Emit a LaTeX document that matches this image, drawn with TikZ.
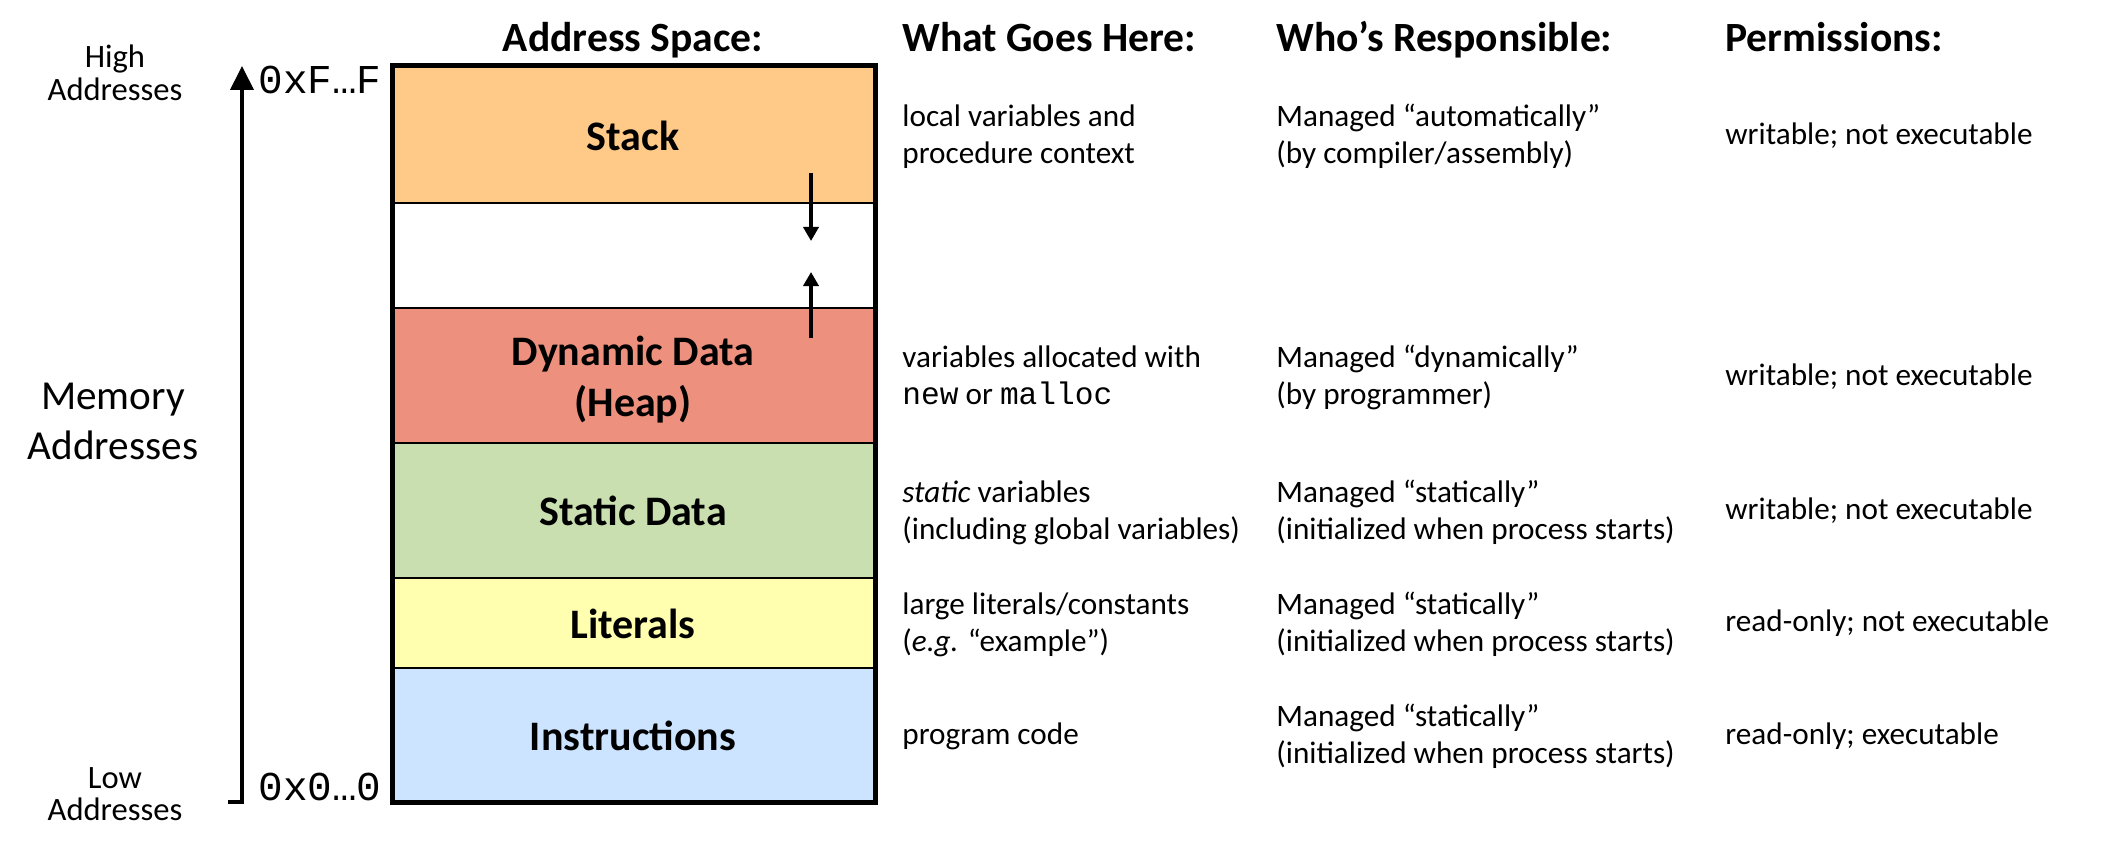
\documentclass[tikz,border=0pt]{standalone}
\usepackage{fontspec}
\setmainfont{Carlito}
\setmonofont{Liberation Mono}
\usetikzlibrary{arrows.meta}
\definecolor{stackc}{HTML}{FFC987}
\definecolor{heapc}{HTML}{EE907E}
\definecolor{staticc}{HTML}{C9DFB0}
\definecolor{litc}{HTML}{FFFFAF}
\definecolor{instrc}{HTML}{CCE4FF}
\newcommand{\twoline}[2]{\begin{tabular}[t]{@{}l@{}}#1\\#2\end{tabular}}
\tikzset{
  hdr/.style={font=\fontsize{20.8}{24}\selectfont\bfseries, anchor=base west, inner sep=0pt},
  body/.style={font=\fontsize{15.6}{18.5}\selectfont, anchor=base west, inner sep=0pt},
  seglabel/.style={font=\fontsize{21}{25.5}\selectfont\bfseries, anchor=base, inner sep=0pt, align=center},
  addr/.style={font=\fontsize{20.5}{24}\selectfont\ttfamily, anchor=base west, inner sep=0pt},
  side/.style={font=\fontsize{16.3}{16}\selectfont, anchor=base, inner sep=0pt},
  bigside/.style={font=\fontsize{20.6}{25}\selectfont, anchor=base, inner sep=0pt},
  growarrow/.style={line width=2pt, -{Triangle[width=7.5pt,length=7pt]}},
}
\begin{document}
\begin{tikzpicture}[x=0.5pt,y=-0.5pt]
\useasboundingbox (0,0) rectangle (2118,850);
% segments
\fill[stackc] (392,66) rectangle (875,203);
\fill[white] (392,203) rectangle (875,308);
\fill[heapc] (392,308) rectangle (875,443);
\fill[staticc] (392,443) rectangle (875,578);
\fill[litc] (392,578) rectangle (875,668);
\fill[instrc] (392,668) rectangle (875,802);
\foreach \yy in {203,308,443,578,668} \draw[line width=1.2pt] (392,\yy) -- (875,\yy);
\draw[line width=2.5pt] (392,66) rectangle (875,802);
% labels in the box
\node[seglabel] (stack) at (633,151) {Stack};
\node[seglabel] (heap) at (633,365) {\begin{tabular}[t]{@{}c@{}}Dynamic Data\\(Heap)\end{tabular}};
\node[seglabel] (static) at (633,525) {Static Data};
\node[seglabel] (lit) at (633,638) {Literals};
\node[seglabel] (instr) at (633,750) {Instructions};
% growth arrows
\coordinate (sdA) at (811,173);
\coordinate (sdB) at (811,241);
\coordinate (huA) at (811,338);
\coordinate (huB) at (811,272);
\draw[growarrow] (sdA) -- (sdB);
\draw[growarrow] (huA) -- (huB);
% headers
\node[hdr, anchor=base] (h1) at (633,52) {Address Space:};
\node[hdr] (h2) at (902,52) {What Goes Here:};
\node[hdr] (h3) at (1276,52) {Who’s Responsible:};
\node[hdr] (h4) at (1725,52) {Permissions:};
% address axis
\coordinate (axB) at (242,802);
\coordinate (axT) at (242,66);
\coordinate (tick) at (228,802);
\draw[line width=2pt, -{Triangle[width=11.5pt,length=12pt]}] (axB) -- (axT);
\draw[line width=2pt] (tick) -- ([xshift=1pt]axB);
\node[addr] (hiaddr) at (258,94) {0xF…F};
\node[addr] (loaddr) at (258,800) {0x0…0};
\node[side] (high) at (115,68) {\begin{tabular}[t]{@{}c@{}}High\\Addresses\end{tabular}};
\node[side] (low) at (115,788) {\begin{tabular}[t]{@{}c@{}}Low\\Addresses\end{tabular}};
\node[bigside] (mem) at (113,409) {\begin{tabular}[t]{@{}c@{}}Memory\\Addresses\end{tabular}};
% row: stack
\node[body] (w1) at (902,127) {\twoline{local variables and}{procedure context}};
\node[body] (r1) at (1276,127) {\twoline{Managed “automatically”}{(by compiler/assembly)}};
\node[body] (p1) at (1725,145) {writable; not executable};
% row: heap
\node[body] (w2) at (902,367) {\twoline{variables allocated with}{\texttt{new} or \texttt{malloc}}};
\node[body] (r2) at (1276,367) {\twoline{Managed “dynamically”}{(by programmer)}};
\node[body] (p2) at (1725,385) {writable; not executable};
% row: static
\node[body] (w3) at (902,502) {\twoline{\textit{static} variables}{(including global variables)}};
\node[body] (r3) at (1276,502) {\twoline{Managed “statically”}{(initialized when process starts)}};
\node[body] (p3) at (1725,519) {writable; not executable};
% row: literals
\node[body] (w4) at (902,614) {\twoline{large literals/constants}{(\textit{e.g.} “example”)}};
\node[body] (r4) at (1276,614) {\twoline{Managed “statically”}{(initialized when process starts)}};
\node[body] (p4) at (1725,631) {read-only; not executable};
% row: instructions
\node[body] (w5) at (902,744) {program code};
\node[body] (r5) at (1276,726) {\twoline{Managed “statically”}{(initialized when process starts)}};
\node[body] (p5) at (1725,744) {read-only; executable};
\end{tikzpicture}
\end{document}
